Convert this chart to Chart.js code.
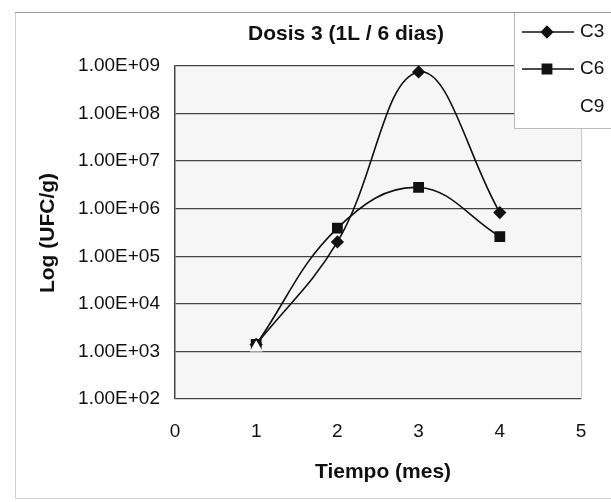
<!DOCTYPE html>
<html>
<head>
<meta charset="utf-8">
<script src="https://cdn.jsdelivr.net/npm/chart.js@4.4.0/dist/chart.umd.min.js"></script>
<style>
  html, body { margin: 0; padding: 0; background: #fff; }
  #wrap { position: relative; width: 611px; height: 502px; }
</style>
</head>
<body>
<div id="wrap"><canvas id="chart" width="611" height="502"></canvas></div>
<script>
// data
const months = [1, 2, 3, 4];
const c3 = [1400, 200000, 750000000, 830000];
const c6 = [1400, 390000, 2800000, 260000];
const c9Months = [1];
const c9 = [1200];
const yTicks = [100, 1e3, 1e4, 1e5, 1e6, 1e7, 1e8, 1e9];
const xTicks = [0, 1, 2, 3, 4, 5];

const FONT = "'Liberation Sans', Arial, sans-serif";

function sci(v) {
    const e = Math.round(Math.log10(v));
    const m = v / Math.pow(10, e);
    return m.toFixed(2) + "E+" + String(e).padStart(2, "0");
}

function pts(xs, ys) {
    return xs.map((x, i) => ({ x: x, y: ys[i] }));
}

// frame, plot background, title, axis titles and legend box
const decor = {
    id: "decor",
    beforeDraw(chart) {
        const ctx = chart.ctx, a = chart.chartArea;
        ctx.save();
        ctx.fillStyle = "#f6f6f6";
        ctx.fillRect(a.left, a.top, a.right - a.left, a.bottom - a.top);
        ctx.strokeStyle = "#d0d0d0";
        ctx.lineWidth = 1;
        ctx.strokeRect(15.5, 12.5, 620, 486);
        ctx.strokeStyle = "#999";
        ctx.beginPath();
        ctx.moveTo(15, 12.5);
        ctx.lineTo(611, 12.5);
        ctx.stroke();
        ctx.restore();
    },
    afterDraw(chart) {
        const ctx = chart.ctx;
        ctx.save();
        ctx.fillStyle = "#111";
        ctx.textAlign = "center";
        ctx.textBaseline = "middle";
        ctx.font = "bold 21px " + FONT;
        ctx.fillText("Dosis 3 (1L / 6 dias)", 346, 34);
        ctx.fillText("Tiempo (mes)", 383, 472);
        ctx.translate(48, 233);
        ctx.rotate(-Math.PI / 2);
        ctx.fillText("Log (UFC/g)", 0, 0);
        ctx.restore();

        // legend
        ctx.save();
        ctx.fillStyle = "#fff";
        ctx.fillRect(514, 13, 100, 115);
        ctx.strokeStyle = "#bbb";
        ctx.lineWidth = 1;
        ctx.beginPath();
        ctx.moveTo(514.5, 13);
        ctx.lineTo(514.5, 128.5);
        ctx.lineTo(611, 128.5);
        ctx.stroke();
        const rows = [32, 69, 107];
        chart.data.datasets.forEach((ds, i) => {
            const y = rows[i];
            ctx.strokeStyle = ds.borderColor;
            ctx.lineWidth = ds.borderWidth;
            ctx.beginPath();
            ctx.moveTo(522, y);
            ctx.lineTo(574, y);
            ctx.stroke();
            Chart.helpers.drawPoint(ctx, {
                pointStyle: ds.pointStyle,
                radius: ds.pointRadius,
                borderWidth: 1
            }, 547, y);
            ctx.fillStyle = ds.pointBackgroundColor;
            ctx.strokeStyle = ds.pointBorderColor;
            ctx.fill();
            ctx.fillStyle = "#111";
            ctx.font = "19px " + FONT;
            ctx.textAlign = "left";
            ctx.textBaseline = "middle";
            ctx.fillText(ds.label, 580, y);
        });
        ctx.restore();
    }
};

new Chart(document.getElementById("chart"), {
    type: "line",
    data: {
        datasets: [
            {
                label: "C3",
                data: pts(months, c3),
                borderColor: "#111",
                borderWidth: 1.6,
                pointStyle: "rectRot",
                pointRadius: 5.5,
                pointBackgroundColor: "#111",
                pointBorderColor: "#111",
                tension: 0.4,
                order: 2
            },
            {
                label: "C6",
                data: pts(months, c6),
                borderColor: "#111",
                borderWidth: 1.6,
                pointStyle: "rect",
                pointRadius: 6.5,
                pointBackgroundColor: "#111",
                pointBorderColor: "#111",
                tension: 0.4,
                order: 1
            },
            {
                label: "C9",
                data: pts(c9Months, c9),
                borderColor: "#fff",
                borderWidth: 1.5,
                pointStyle: "triangle",
                pointRadius: 6,
                pointBackgroundColor: "#fff",
                pointBorderColor: "#fff",
                order: 0
            }
        ]
    },
    options: {
        responsive: false,
        animation: false,
        clip: false,
        layout: { padding: { left: 0, top: 66, right: 30, bottom: 0 } },
        plugins: {
            legend: { display: false },
            title: { display: false },
            tooltip: { enabled: false }
        },
        scales: {
            x: {
                type: "linear",
                min: 0,
                max: 5,
                afterFit(s) { s.height = 103; },
                afterBuildTicks(s) { s.ticks = xTicks.map(v => ({ value: v })); },
                grid: {
                    drawTicks: false,
                    color: c => c.tick && c.tick.value === 5 ? "#c8c8c8" : "rgba(0,0,0,0)",
                    lineWidth: 1
                },
                border: { display: false },
                ticks: {
                    padding: 21,
                    color: "#111",
                    font: { family: FONT, size: 19 }
                }
            },
            y: {
                type: "logarithmic",
                min: 100,
                max: 1e9,
                afterFit(s) { s.width = 175; },
                afterBuildTicks(s) { s.ticks = yTicks.map(v => ({ value: v })); },
                grid: {
                    drawTicks: false,
                    color: "#444",
                    lineWidth: 1.3
                },
                border: { display: true, color: "#444", width: 1.5 },
                ticks: {
                    padding: 15,
                    color: "#111",
                    font: { family: FONT, size: 19 },
                    callback: v => sci(v)
                }
            }
        }
    },
    plugins: [decor]
});
</script>
</body>
</html>
